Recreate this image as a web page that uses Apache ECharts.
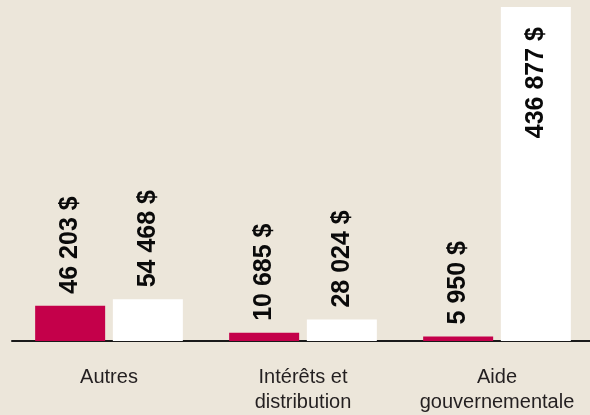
<!DOCTYPE html>
<html>
<head>
<meta charset="utf-8">
<script src="https://cdn.jsdelivr.net/npm/echarts@6/dist/echarts.min.js"></script>
<style>
  html, body { margin: 0; padding: 0; background: #ece6da; }
  #main { width: 590px; height: 415px; }
</style>
</head>
<body>
<div id="main"></div>
<script>
const categories = ['Autres', 'Intérêts et\ndistribution', 'Aide\ngouvernementale'];
const redValues = [46203, 10685, 5950];
const whiteValues = [54468, 28024, 436877];

const redColor = '#c4004a';
const whiteColor = '#ffffff';

function fmt(v) {
  return String(v).replace(/\B(?=(\d{3})+(?!\d))/g, ' ') + ' $';
}

const labelStyle = {
  show: true,
  position: 'top',
  distance: 12,
  rotate: 90,
  align: 'left',
  verticalAlign: 'middle',
  fontFamily: 'Liberation Sans',
  fontWeight: 'bold',
  fontSize: 25,
  color: '#0a0a0a',
  formatter: p => fmt(p.value)
};

// the tallest bar carries its label inside, near the top
const maxWhite = Math.max(...whiteValues);
const whiteData = whiteValues.map(v => v === maxWhite ? {
  value: v,
  label: { position: 'insideTop', distance: 20, align: 'right' }
} : v);

const chart = echarts.init(document.getElementById('main'));
chart.setOption({
  animation: false,
  backgroundColor: '#ece6da',
  grid: { left: 12, width: 582, top: 7, bottom: 74, outerBoundsMode: 'none', containLabel: false },
  xAxis: {
    type: 'category',
    data: categories,
    axisLine: { lineStyle: { color: '#1a1a1a', width: 2 } },
    axisTick: { show: false },
    axisLabel: {
      interval: 0,
      hideOverlap: false,
      margin: 24,
      fontFamily: 'Liberation Sans',
      fontSize: 20,
      lineHeight: 25,
      color: '#231f20'
    }
  },
  yAxis: {
    type: 'value',
    min: 0,
    max: 436877,
    show: false
  },
  series: [
    {
      name: 'A',
      type: 'bar',
      data: redValues,
      barWidth: 70,
      barGap: '11%',
      itemStyle: { color: redColor },
      label: labelStyle
    },
    {
      name: 'B',
      type: 'bar',
      data: whiteData,
      barWidth: 70,
      itemStyle: { color: whiteColor },
      label: labelStyle
    }
  ]
});
</script>
</body>
</html>
